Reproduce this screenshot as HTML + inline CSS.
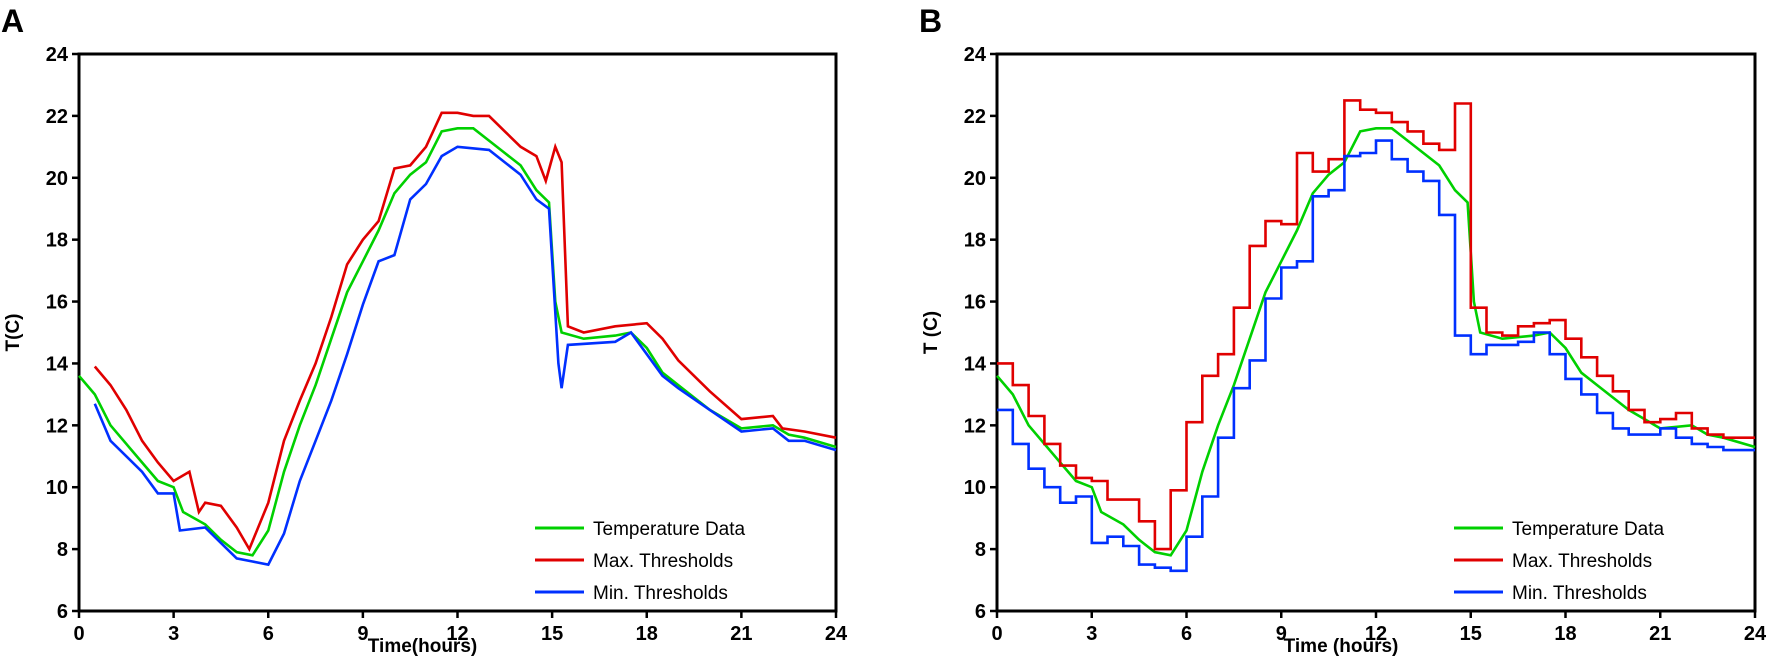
<!DOCTYPE html><html><head><style>body{margin:0;background:#fff}svg{display:block}text{font-family:"Liberation Sans",sans-serif;font-weight:bold;fill:#000}</style></head><body>
<svg id="s" width="1772" height="669" xmlns="http://www.w3.org/2000/svg"></svg>
<script>
const S=document.getElementById('s');let h='';
const Y0=54,Y1=611;
function panel(x0,x1,letter,ylab,xlab,G,R,B,stepRB){
 const X=t=>x0+(x1-x0)*t/24, Y=v=>Y1-(Y1-Y0)*(v-6)/18;
 h+=`<text x="${x0-78}" y="32" font-size="32">${letter}</text>`;
 h+=`<rect x="${x0}" y="${Y0}" width="${x1-x0}" height="${Y1-Y0}" fill="none" stroke="#000" stroke-width="3"/>`;
 for(let v=6;v<=24;v+=2){h+=`<line x1="${x0-7}" x2="${x0}" y1="${Y(v)}" y2="${Y(v)}" stroke="#000" stroke-width="2.5"/><text x="${x0-11}" y="${Y(v)+7}" font-size="20" text-anchor="end">${v}</text>`;}
 for(let t=0;t<=24;t+=3){h+=`<line x1="${X(t)}" x2="${X(t)}" y1="${Y1}" y2="${Y1+7}" stroke="#000" stroke-width="2.5"/><text x="${X(t)}" y="${Y1+29}" font-size="20" text-anchor="middle">${t}</text>`;}
 h+=`<text x="${(x0+x1)/2-35}" y="${Y1+41}" font-size="19" text-anchor="middle">${xlab}</text>`;
 h+=`<text transform="translate(${x0-60},${(Y0+Y1)/2}) rotate(-90)" font-size="19" text-anchor="middle">${ylab}</text>`;
 const line=(pts,c)=>{h+=`<polyline fill="none" stroke="${c}" stroke-width="2.6" points="${pts.map(p=>X(p[0]).toFixed(1)+','+Y(p[1]).toFixed(1)).join(' ')}"/>`;};
 const steps=(arr,start)=>{let p=[];arr.forEach((v,i)=>{let a=start+i*0.5,b=(i==arr.length-1)?24:a+0.5;p.push([a,v],[b,v]);});return p;};
 line(G,'#00d000');
 if(stepRB){line(steps(R,0),'#e00000');line(steps(B,0),'#0030ff');}
 else{line(R,'#e00000');line(B,'#0030ff');}
 const lg=[['Temperature Data','#00d000'],['Max. Thresholds','#e00000'],['Min. Thresholds','#0030ff']];
 lg.forEach((l,i)=>{let y=528+i*32;h+=`<line x1="${x1-301}" x2="${x1-252}" y1="${y}" y2="${y}" stroke="${l[1]}" stroke-width="3"/><text x="${x1-243}" y="${y+7}" font-size="19" font-weight="normal" style="font-weight:normal">${l[0]}</text>`;});
}
const GA=[[0,13.6],[0.5,13],[1,12],[2,10.8],[2.5,10.2],[3,10],[3.3,9.2],[4,8.8],[4.5,8.3],[5,7.9],[5.5,7.8],[6,8.6],[6.5,10.5],[7,12],[7.5,13.3],[8,14.8],[8.5,16.3],[9,17.3],[9.5,18.3],[10,19.5],[10.5,20.1],[11,20.5],[11.5,21.5],[12,21.6],[12.5,21.6],[13,21.2],[13.5,20.8],[14,20.4],[14.5,19.6],[14.9,19.2],[15.1,16],[15.3,15],[16,14.8],[17,14.9],[17.5,15],[18,14.5],[18.5,13.7],[19,13.3],[20,12.5],[21,11.9],[22,12],[22.5,11.7],[23,11.6],[24,11.3]];
const RA=[[0.5,13.9],[1,13.3],[1.5,12.5],[2,11.5],[2.5,10.8],[3,10.2],[3.5,10.5],[3.8,9.2],[4,9.5],[4.5,9.4],[5,8.7],[5.4,8],[6,9.5],[6.5,11.5],[7,12.8],[7.5,14],[8,15.5],[8.5,17.2],[9,18],[9.5,18.6],[10,20.3],[10.5,20.4],[11,21],[11.5,22.1],[12,22.1],[12.5,22],[13,22],[13.5,21.5],[14,21],[14.5,20.7],[14.8,19.9],[15.1,21],[15.3,20.5],[15.5,15.2],[16,15],[17,15.2],[18,15.3],[18.5,14.8],[19,14.1],[20,13.1],[21,12.2],[22,12.3],[22.3,11.9],[23,11.8],[24,11.6]];
const BA=[[0.5,12.7],[1,11.5],[2,10.5],[2.5,9.8],[3,9.8],[3.2,8.6],[4,8.7],[4.5,8.2],[5,7.7],[5.5,7.6],[6,7.5],[6.5,8.5],[7,10.2],[7.5,11.5],[8,12.8],[8.5,14.3],[9,15.9],[9.5,17.3],[10,17.5],[10.5,19.3],[11,19.8],[11.5,20.7],[12,21],[13,20.9],[14,20.1],[14.5,19.3],[14.9,19],[15.2,14],[15.3,13.2],[15.5,14.6],[17,14.7],[17.5,15],[18,14.3],[18.5,13.6],[19,13.2],[20,12.5],[21,11.8],[22,11.9],[22.5,11.5],[23,11.5],[24,11.2]];
const RB=[14,13.3,12.3,11.4,10.7,10.3,10.2,9.6,9.6,8.9,8,9.9,12.1,13.6,14.3,15.8,17.8,18.6,18.5,20.8,20.2,20.6,22.5,22.2,22.1,21.8,21.5,21.1,20.9,22.4,15.8,15,14.9,15.2,15.3,15.4,14.8,14.2,13.6,13.1,12.5,12.1,12.2,12.4,11.9,11.7,11.6];
const BB=[12.5,11.4,10.6,10,9.5,9.7,8.2,8.4,8.1,7.5,7.4,7.3,8.4,9.7,11.6,13.2,14.1,16.1,17.1,17.3,19.4,19.6,20.7,20.8,21.2,20.6,20.2,19.9,18.8,14.9,14.3,14.6,14.6,14.7,15,14.3,13.5,13,12.4,11.9,11.7,11.7,11.9,11.6,11.4,11.3,11.2];
panel(79,836,'A','T(C)','Time(hours)',GA,RA,BA,false);
panel(997,1755,'B','T (C)','Time (hours)',GA,RB,BB,true);
S.innerHTML=h;
</script></body></html>
